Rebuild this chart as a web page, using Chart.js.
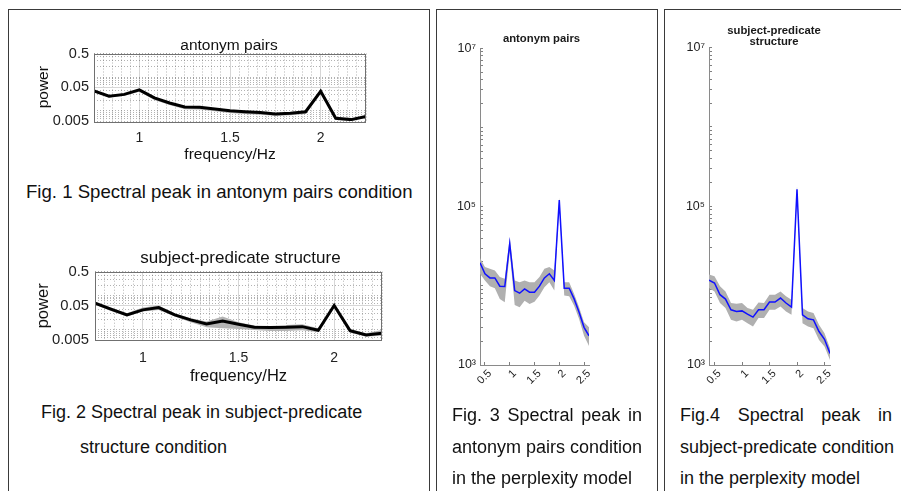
<!DOCTYPE html>
<html>
<head>
<meta charset="utf-8">
<script src="https://cdn.jsdelivr.net/npm/chart.js@4.4.1/dist/chart.umd.min.js"></script>
<style>
  body { margin: 0; width: 901px; height: 491px; background: #fff; position: relative; overflow: hidden;
         font-family: "Liberation Sans", Arial, Helvetica, sans-serif; }
  .box { position: absolute; box-sizing: border-box; border: 1px solid #3a3a3a; }
  .cap { position: absolute; font-size: 18px; line-height: 20px; color: #111; white-space: nowrap; }
  .just { text-align: justify; text-align-last: justify; }
  canvas { position: absolute; }
</style>
</head>
<body>
<div class="box" style="left:8px;top:9px;width:422px;height:500px"></div>
<div class="box" style="left:436px;top:9px;width:222px;height:500px"></div>
<div class="box" style="left:664px;top:9px;width:260px;height:500px"></div>

<canvas id="c1" width="432" height="136" style="left:14px;top:28px"></canvas>
<canvas id="c2" width="451" height="146" style="left:15px;top:240px"></canvas>
<canvas id="c3" width="203" height="367" style="left:440px;top:28px"></canvas>
<canvas id="c4" width="212" height="375" style="left:668px;top:20px"></canvas>

<div class="cap" style="left:26px;top:182px;font-size:18.6px">Fig. 1 Spectral peak in antonym pairs condition</div>
<div class="cap" style="left:41px;top:402px">Fig. 2 Spectral peak in subject-predicate</div>
<div class="cap" style="left:80px;top:437px">structure condition</div>

<div class="cap just" style="left:452px;top:405px;width:190px">Fig. 3 Spectral peak in</div>
<div class="cap" style="left:452px;top:437px">antonym pairs condition</div>
<div class="cap" style="left:452px;top:468px">in the perplexity model</div>

<div class="cap just" style="left:680px;top:405px;width:212px">Fig.4 Spectral peak in</div>
<div class="cap" style="left:680px;top:437px">subject-predicate condition</div>
<div class="cap" style="left:680px;top:468px">in the perplexity model</div>

<script>
// EEG spectra (Fig. 1, 2)
const freqEEG = [0.75, 0.833, 0.917, 1.0, 1.083, 1.167, 1.25, 1.333, 1.417, 1.5,
                 1.583, 1.667, 1.75, 1.833, 1.917, 2.0, 2.083, 2.167, 2.25];
const antonymPower = [0.0387, 0.0273, 0.0307, 0.042, 0.0243, 0.0171, 0.0130, 0.0127, 0.0113, 0.0100,
                      0.0094, 0.0089, 0.0081, 0.0085, 0.0094, 0.038, 0.0060, 0.0055, 0.0068];
const antonymUpper = [0.041, 0.029, 0.032, 0.044, 0.026, 0.018, 0.0137, 0.0133, 0.0118, 0.0104,
                      0.0098, 0.0093, 0.0085, 0.0089, 0.0099, 0.040, 0.0063, 0.0058, 0.0072];
const antonymLower = [0.036, 0.025, 0.028, 0.037, 0.021, 0.0148, 0.0112, 0.0110, 0.0097, 0.0086,
                      0.0081, 0.0077, 0.0071, 0.0074, 0.0080, 0.034, 0.0054, 0.0050, 0.0062];
const subjPower = [0.0598, 0.0399, 0.0272, 0.0381, 0.0447, 0.0272, 0.0194, 0.0148, 0.0181, 0.0145,
                   0.0118, 0.0116, 0.0118, 0.0123, 0.0096, 0.0512, 0.0094, 0.0070, 0.0079];
const subjUpper = [0.0670, 0.0447, 0.0304, 0.0447, 0.0512, 0.0304, 0.0217, 0.0173, 0.0243, 0.0166,
                   0.0132, 0.0129, 0.0138, 0.0145, 0.0110, 0.0560, 0.0105, 0.0079, 0.0098];
const subjLower = [0.0535, 0.0356, 0.0243, 0.0340, 0.0381, 0.0243, 0.0166, 0.0118, 0.0110, 0.0105,
                   0.0098, 0.0092, 0.0092, 0.0096, 0.0084, 0.0457, 0.0082, 0.0063, 0.0067];

// perplexity model spectra (Fig. 3, 4)
const freqModel = [0.4, 0.5, 0.6, 0.7, 0.8, 0.9, 1.0, 1.1, 1.2, 1.3, 1.4, 1.5,
                   1.6, 1.7, 1.8, 1.9, 2.0, 2.1, 2.2, 2.3, 2.4, 2.5, 2.6];
const antonymModel = [19600, 14200, 12600, 12600, 9900, 9800, 34200, 8710, 8070, 9160, 8320, 8320,
                      9900, 12600, 14200, 11700, 121000, 9350, 9350, 6840, 4630, 2990, 2340];
const antonymModelUpper = [22500, 17300, 16400, 15600, 12900, 12300, 40400, 11700, 11100, 11700, 11100, 11100,
                           12900, 16400, 17300, 15600, 130000, 11100, 11100, 7910, 5360, 3460, 2990];
const antonymModelLower = [14200, 11700, 9900, 9350, 6840, 6200, 26800, 5740, 5360, 6500, 5900, 6310,
                           7530, 9620, 11100, 8710, 105000, 7530, 7400, 5620, 3810, 2340, 1740];
const subjModel = [11700, 10800, 7690, 6780, 4970, 4730, 4810, 4380, 4010, 4970, 4970, 6210,
                   6210, 6980, 6040, 5370, 164000, 4300, 3820, 3710, 2640, 2110, 1400];
const subjModelUpper = [13800, 13100, 9800, 8470, 6040, 5920, 6040, 5220, 4970, 6150, 6040, 7690,
                        7690, 8470, 7330, 6650, 180000, 5220, 4730, 4510, 3210, 2520, 1630];
const subjModelLower = [9350, 8470, 6040, 5220, 3710, 3530, 3710, 3370, 3050, 3900, 3900, 4970,
                        4970, 5470, 4730, 4300, 150000, 3370, 3050, 2910, 2070, 1710, 1160];

// tick labels
const powerTickVals = [0.005, 0.05, 0.5];
const powerTickLabels = ['0.005', '0.05', '0.5'];
const freqTickVals = [1, 1.5, 2];
const freqTickLabels = ['1', '1.5', '2'];
const modelYTickVals = [1e3, 1e5, 1e7];
const modelYTickLabels = ['10\u00B3', '10\u2075', '10\u2077'];
const modelXTickVals = [0.5, 1, 1.5, 2, 2.5];
const modelXTickLabels = ['0.5', '1', '1.5', '2', '2.5'];

Chart.defaults.font.family = '"Liberation Sans", Arial, Helvetica, sans-serif';
Chart.defaults.color = '#222';
Chart.defaults.animation = false;

const pts = (xs, ys) => xs.map((x, i) => ({ x, y: ys[i] }));
const near = (a, b) => Math.abs(a - b) <= Math.abs(b) * 1e-6 + 1e-9;
const labelOf = (v, vals, labels) => {
  const i = vals.findIndex(t => near(v, t));
  return i < 0 ? '' : labels[i];
};
function logTicks(min, max) {
  const out = [];
  for (let e = Math.floor(Math.log10(min)); e <= Math.ceil(Math.log10(max)); e++) {
    for (let m = 1; m < 10; m++) {
      const v = +(m * Math.pow(10, e)).toPrecision(6);
      if (v >= min * 0.9999 && v <= max * 1.0001) out.push(v);
    }
  }
  return out;
}
function stepTicks(min, max, step) {
  const out = [];
  for (let v = min; v <= max + 1e-9; v += step) out.push(+v.toFixed(4));
  return out;
}

// box round the plot area (MATLAB "box on")
const boxPlugin = {
  id: 'box',
  afterDatasetsDraw(chart, args, opts) {
    if (!opts.color) return;
    const { ctx, chartArea: a } = chart;
    ctx.save();
    ctx.strokeStyle = opts.color;
    ctx.lineWidth = 1;
    ctx.strokeRect(Math.round(a.left) + 0.5, Math.round(a.top) + 0.5,
                   Math.round(a.right - a.left) - 1, Math.round(a.bottom - a.top));
    ctx.restore();
  }
};
// slide the title block sideways
const titleShift = {
  id: 'titleShift',
  afterLayout(chart, args, opts) {
    const t = chart.titleBlock;
    if (t && opts.dx) { t.left += opts.dx; t.right += opts.dx; }
  }
};

function bandSets(xs, mean, upper, lower, lineColor, lineWidth, bandColor) {
  return [
    { data: pts(xs, mean), borderColor: lineColor, borderWidth: lineWidth, pointRadius: 0, fill: false, tension: 0 },
    { data: pts(xs, upper), borderWidth: 0, pointRadius: 0, fill: '+1', backgroundColor: bandColor, tension: 0 },
    { data: pts(xs, lower), borderWidth: 0, pointRadius: 0, fill: false, tension: 0 }
  ];
}

// MATLAB style panel with log power axis
function eegChart(id, o) {
  const yTicks = logTicks(0.005, 0.5);
  const xTicks = stepTicks(0.75, 2.25, 0.05);
  const isMajorY = v => near(v, 0.05);
  const isMajorX = v => freqTickVals.some(t => near(v, t));
  new Chart(document.getElementById(id), {
    type: 'line',
    data: { datasets: bandSets(freqEEG, o.mean, o.upper, o.lower, '#000', 3, '#b4b4b4') },
    options: {
      responsive: false,
      layout: { padding: { left: 0, right: o.padRight, top: 0, bottom: 0 } },
      plugins: {
        legend: { display: false },
        tooltip: { enabled: false },
        title: { display: true, text: o.title, color: '#111',
                 font: { size: o.titleSize, weight: 'normal', lineHeight: 1 }, padding: o.titlePad },
        box: { color: '#707070' },
        titleShift: { dx: o.titleDx }
      },
      scales: {
        x: {
          type: 'linear', min: 0.75, max: 2.25,
          afterBuildTicks: s => { s.ticks = xTicks.map(value => ({ value })); },
          afterFit: s => { s.height = o.xHeight; },
          ticks: { autoSkip: false, maxRotation: 0, padding: o.xTickPad, font: { size: 14 },
                   callback: v => labelOf(v, freqTickVals, freqTickLabels) },
          grid: { drawTicks: false,
                  color: c => c.tick && isMajorX(c.tick.value) ? '#d6d6d6' : 'rgba(0,0,0,0.3)' },
          border: { display: false, dash: c => c.tick && isMajorX(c.tick.value) ? [] : [1, 2] },
          title: { display: true, text: 'frequency/Hz', color: '#111',
                   font: { size: o.axisSize }, padding: { top: 0, bottom: 0 } }
        },
        y: {
          type: 'logarithmic', min: 0.005, max: 0.5,
          afterBuildTicks: s => { s.ticks = yTicks.map(value => ({ value })); },
          afterFit: s => { s.width = 80; },
          ticks: { autoSkip: false, padding: o.yTickPad, font: { size: o.yTickSize },
                   callback: v => labelOf(v, powerTickVals, powerTickLabels) },
          grid: { drawTicks: false,
                  color: c => c.tick && isMajorY(c.tick.value) ? '#d6d6d6' : 'rgba(0,0,0,0.3)' },
          border: { display: false, dash: c => c.tick && isMajorY(c.tick.value) ? [] : [1, 2] },
          title: { display: true, text: 'power', color: '#111',
                   font: { size: o.axisSize }, padding: { top: o.yTitlePad, bottom: 0 } }
        }
      }
    },
    plugins: [boxPlugin, titleShift]
  });
}

// model panel with log y axis and inward ticks
function modelChart(id, o) {
  const yTicks = logTicks(1e3, 1e7);
  new Chart(document.getElementById(id), {
    type: 'line',
    data: { datasets: bandSets(freqModel, o.mean, o.upper, o.lower, '#1010ff', 1.5, '#b0b0b0') },
    options: {
      responsive: false,
      layout: { padding: { left: 0, right: o.padRight, top: 0, bottom: 0 } },
      plugins: {
        legend: { display: false },
        tooltip: { enabled: false },
        title: { display: true, text: o.title, color: '#1a1a1a',
                 font: { size: 11.3, weight: 'bold', lineHeight: o.titleLH }, padding: o.titlePad },
        titleShift: { dx: o.titleDx }
      },
      scales: {
        x: {
          type: 'linear', min: 0.4, max: 2.6,
          afterBuildTicks: s => { s.ticks = modelXTickVals.map(value => ({ value })); },
          afterFit: s => { s.height = 30; },
          ticks: { autoSkip: false, minRotation: 45, maxRotation: 45, padding: 5, labelOffset: 5,
                   font: { size: 11 },
                   callback: v => labelOf(v, modelXTickVals, modelXTickLabels) },
          grid: { drawOnChartArea: false, drawTicks: true, tickLength: -3, color: '#808080' },
          border: { display: true, color: '#8a8a8a', width: 1 }
        },
        y: {
          type: 'logarithmic', min: 1e3, max: 1e7,
          afterBuildTicks: s => { s.ticks = yTicks.map(value => ({ value })); },
          afterFit: s => { s.width = o.yWidth; },
          ticks: { autoSkip: false, padding: 7, font: { size: 12.5 },
                   callback: v => labelOf(v, modelYTickVals, modelYTickLabels) },
          grid: { drawOnChartArea: false, drawTicks: true, tickLength: -3, color: '#808080' },
          border: { display: true, color: '#8a8a8a', width: 1 }
        }
      }
    },
    plugins: [titleShift]
  });
}

eegChart('c1', {
  title: 'antonym pairs', titleSize: 15.5, titlePad: { top: 10, bottom: 0 }, titleDx: 39,
  mean: antonymPower, upper: antonymUpper, lower: antonymLower,
  padRight: 80, xHeight: 43, xTickPad: 9, yTickPad: 5, yTickSize: 14.5, axisSize: 15.5, yTitlePad: 20
});
eegChart('c2', {
  title: 'subject-predicate structure', titleSize: 17, titlePad: { top: 9.5, bottom: 5.2 }, titleDx: 42,
  mean: subjPower, upper: subjUpper, lower: subjLower,
  padRight: 84, xHeight: 46, xTickPad: 10, yTickPad: 6, yTickSize: 14.8, axisSize: 16.5, yTitlePad: 19
});
modelChart('c3', {
  title: 'antonym pairs', titleLH: 1, titlePad: { top: 5, bottom: 4 }, titleDx: 27,
  mean: antonymModel, upper: antonymModelUpper, lower: antonymModelLower,
  padRight: 54, yWidth: 40
});
modelChart('c4', {
  title: ['subject-predicate', 'structure'], titleLH: 0.98, titlePad: { top: 5.5, bottom: 0 }, titleDx: 25,
  mean: subjModel, upper: subjModelUpper, lower: subjModelLower,
  padRight: 50, yWidth: 41
});
</script>
</body>
</html>
